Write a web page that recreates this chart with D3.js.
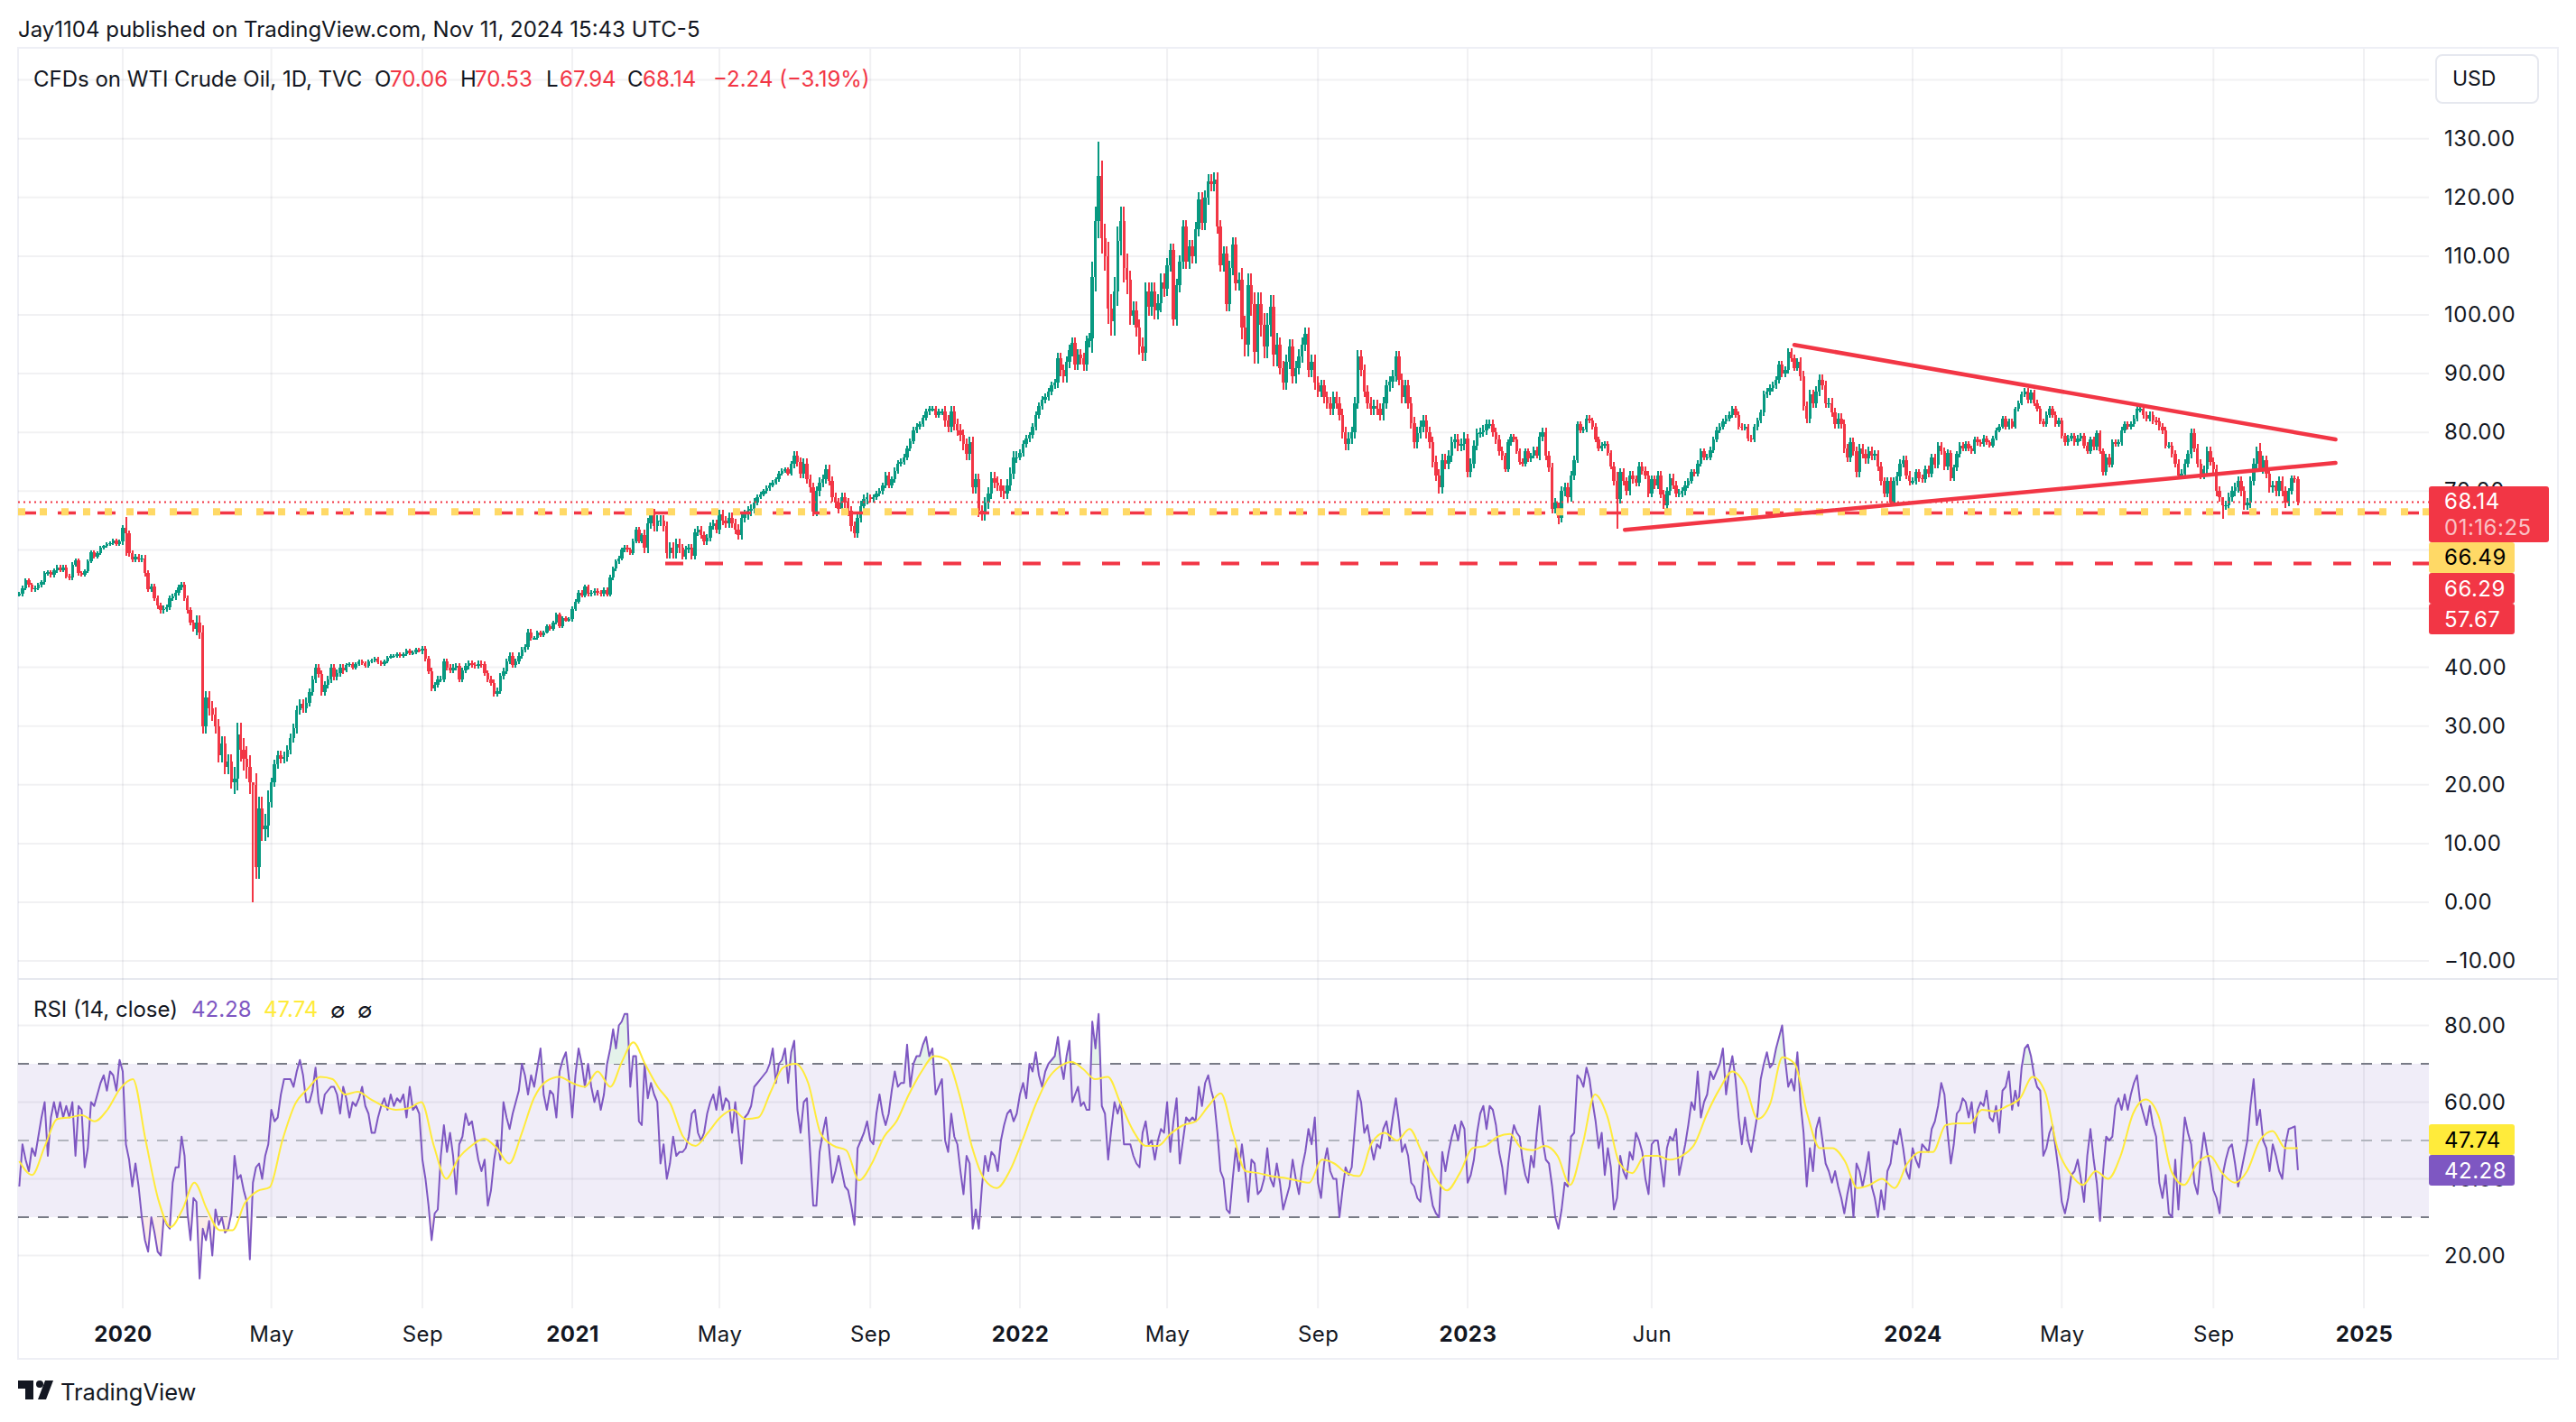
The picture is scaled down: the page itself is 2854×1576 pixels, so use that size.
<!DOCTYPE html>
<html>
<head>
<meta charset="utf-8">
<script src="https://cdn.jsdelivr.net/npm/d3@7"></script>
<style>
  html, body { margin: 0; background: #fff; }
  text { font-family: Inter, "Noto Sans", sans-serif; fill: #131722; }
</style>
</head>
<body>
<svg id="chart" width="2854" height="1576"></svg>
<script>
// one line per calendar month, 12 bars each (first line starts Oct 8 2019, last ends Nov 11 2024)
var closes = [
  52.5,53.5,54.8,54,53.3,53.5,54,54.5,56,
  56.2,55.7,56.5,57,56.6,57,55.5,55.3,57.5,58.2,56,55.8,
  56.4,58,59.6,58.8,59.5,60.4,60.6,61,61.2,61.6,61,61.4,
  63.7,62.8,59.4,58.4,58.8,58.4,58.6,56,53.3,53.8,51.8,50.5,
  49.7,50,50.2,51.8,52,52.7,53.6,54,51.8,49.7,47.6,46.6,
  47.6,46,30,34.8,33,32,30,25,27,23,24,20.5,
  21,28.6,26,24.5,23,20.4,20,6,16,12.5,13,17,
  20.4,23.5,25,24.5,24.8,26,28,29.6,32.7,33.8,33,34,
  35.8,37.9,40,38.9,35.8,37,38,40,38.4,39,40,39.5,
  40.4,40.6,40,40.5,41,40.7,40.2,41,41.2,41.5,40.8,40.6,
  41,41.7,42,42,42.3,42,42.2,42.9,42.4,42.5,43,42.8,
  43.2,41.5,39.4,36.4,37,38,38,41,40,39.5,40,40.2,
  38,39.5,40.2,40.7,40.4,40.3,40.6,40.5,39,38,37.4,35.5,
  36,38.5,39.4,41,42,40.4,41,42,43,43.5,46,45,
  45,46,45.5,46,47,46.5,47.6,49,47,48.4,48,48.2,
  50,51.2,52.7,52.3,53.7,52.5,52.7,53,52.7,52.5,53.2,52.4,
  55.3,56.8,58,58.6,60,60.4,60,59.5,61.5,63.5,61.5,62.5,
  60.4,64.5,66,64,65,65,64,59.4,60.4,59.4,61,60.4,
  58.9,60,60.4,59,63,63.5,62.5,61.4,62,64,64.5,63.5,
  66,65,64.5,65.5,64.5,63.5,62.5,65.5,66,66.6,67,68,
  69,69.5,70,70.5,71,71.5,72,73,73.5,73.7,73,74.7,
  76,75,73,74.7,72,70.6,66.5,70,71.5,72,73.7,71.7,
  69,68,67,69,68,66.6,64,62.8,65.5,67.5,68.6,69,
  68.6,69,69.6,70,71,72.7,71,72,73.5,74.7,75,75.8,
  77.3,78.5,80.4,81,81.4,82.5,83.5,84,84,83,83.5,83.5,
  82,81,83.5,81.4,80.4,79.5,78,76.3,78.3,70.6,72,66.6,
  66,68,69.6,72.2,71.5,71,70,69.6,71,73,75.8,75.8,
  76.5,78,79,79.5,81,83,84.5,85.5,86,87,88,88.5,
  92.6,90.6,89.5,92,94,95.2,91.6,93.2,92.6,91.5,95.5,96,
  106.5,116,123.7,113,110,101,99,104,112.6,116,108,106,
  99.8,100.8,97.8,94.7,93.6,104,101.4,104,100.8,102,105.5,104.5,
  108.5,111,99.3,105,109,115,109,111.6,110,114.6,119.7,115.7,
  120,122.8,122.3,123,115,108.5,110.5,101.8,108,112,105.4,106,
  97.8,95,105,101.8,93.7,101.8,98.3,94.7,98.3,101.4,93.2,95,
  91,88.5,92,94.7,89.6,91,93,95,96.7,90.6,92,88.5,
  87,88,86,85,84,86,85,83,80,78,79,80,
  85,93,90.6,87,85,84,84.5,84,83,85,88,88.6,
  89.6,92.9,89,86,88,85,81.6,78.3,79.9,81,82,80,
  78.3,75,72.7,70.6,75.3,74.7,76,78.3,78.8,77.8,78,79,
  73.2,74.7,77.8,79.9,80,80.4,81.4,81.4,80,78.8,76.8,76,
  73.7,78.3,79.3,78.8,76.8,75,74.7,76.8,75.5,76,77,76,
  79.3,80,76,74,67,68,65.5,70,70.6,69,72.7,75.3,
  81.4,80.4,80.5,82.4,82,81,78.8,77.3,77.8,78,76.5,74.2,
  71.7,68.6,73.2,71.7,70,72.7,72,71.5,74.2,73.5,72.7,69.6,
  72,71,72.7,69.5,67.6,70,72.2,71,69.6,69.6,70,71,
  71.7,73.2,73,74.7,76.8,75.8,75.8,77,78.8,80.4,81,81.9,
  82.4,83,84,83,81,80.9,80.9,79,78.8,80.9,82,83.4,
  86.5,87,87.5,88,89,91.6,90,90.6,93.7,92.6,91,92,
  89.6,84.5,82.4,86.5,85,87,89,88,85,85,83.4,81.4,
  82.4,81.4,77.3,75.8,78.3,76.8,73.2,77.3,76.3,75.5,76.8,76,
  76.3,74.2,71.7,69.6,71.7,68.1,71.7,72.5,74.7,75.3,72.7,71.7,
  71.7,73.2,72.2,72,73.7,73,75.8,74.5,77.8,76.8,74.2,76.5,
  72.2,74,76.3,77.8,77.3,78,77.3,76.8,78.8,78.3,78,79,
  78.3,77.8,79,80.4,81,82.4,80.9,81.9,81,84,85,86.5,
  87,85.5,86.8,85,84,81.9,81.4,83,84,83,81.4,82,
  79.4,78.3,79,79.4,78.3,79,79.4,77.8,76.8,78.8,77.5,79.9,
  76.8,73.2,75.8,74.5,78.3,78,78.3,80.4,81.4,81,81.4,82.4,
  84,84,83,82.4,83,82,81.9,81,80.4,77.8,77.8,76.3,
  74.7,72.7,73,74.7,76.3,79.9,77.3,74.7,72.7,73.7,76.8,75,
  73.7,70,69,67.6,67.6,69,70,70.6,71.7,70,67.6,68,
  71.7,74.7,76.8,73.7,75.3,73,70.6,71,70,71.7,70,68,
  70,72.2,72,68.14
];

// typical wick length per month, Oct 2019 to Nov 2024
var monthWicks = [.4,.4,.3,.5,.5,1.2,2,.8,.6,.3,.3,.5,.5,.5,.3,.4,.4,.9,.6,.8,.4,.8,.8,.5,.5,1,1,.6,1,2.5,1.5,1.2,1.2,2,1.2,1,1,1,1,.8,.5,.8,.5,.7,.7,.5,.5,.6,.8,.8,.7,.6,.5,.4,.5,.5,.5,.6,.7,.8,.8,.5];

// the long wicks
var spikeBars = [34, 75, 347, 495, 514, 708, 720];
var spikeHighs = [65.6, 20, 129.5, 68, 73.2, 67.6, 78.2];
var spikeLows = [59, 0, 113, 64.4, 63.6, 65.3, 73.7];

var rsi = [
  38,49,45,42,48,46,51,56,60,
  46,56,60,56,60,56,59,56,60,46,59,58,
  43,48,60,59,62,65,67,63,68,67,63,71,
  68,49,45,38,44,38,30,24,21,30,26,21,
  20,30,28,27,39,43,43,51,46,31,24,35,
  34,14,27,24,29,20,32,28,30,26,27,31,
  46,40,41,37,34,19,39,43,44,40,46,49,
  58,55,56,62,66,66,66,64,68,71,67,60,
  60,63,69,60,57,62,63,64,64,62,57,64,
  61,56,60,59,61,64,59,57,52,52,56,59,
  61,58,62,59,61,60,62,56,64,58,59,57,
  45,40,33,24,31,32,46,54,47,52,46,36,
  49,51,57,54,55,50,45,42,45,33,37,45,
  50,45,60,56,53,57,60,63,70,67,62,67,
  64,69,74,62,58,63,62,56,68,71,73,66,
  56,67,74,70,64,70,64,60,63,58,62,70,
  74,79,74,80,81,83,83,64,72,72,55,54,
  70,61,65,62,60,44,49,40,44,51,46,47,
  47,48,51,57,58,52,50,52,57,60,62,58,
  64,58,61,60,52,60,52,44,56,57,59,64,
  65,66,67,68,70,74,65,70,71,74,65,73,
  76,58,52,60,61,47,33,33,47,52,56,48,
  39,42,46,42,38,37,33,28,48,50,52,55,
  50,49,57,62,57,54,57,63,68,64,65,65,
  75,64,70,72,72,75,77,72,74,62,64,66,
  50,47,57,51,49,42,36,46,44,27,32,27,
  38,46,42,47,46,42,50,54,57,58,55,57,
  62,65,61,70,68,73,67,64,68,70,71,72,
  77,70,66,72,76,60,62,64,59,60,58,58,
  81,74,83,59,57,45,53,60,57,60,49,49,
  49,46,44,43,52,55,49,50,45,50,53,52,
  60,47,55,61,44,50,56,55,56,55,64,59,
  65,67,63,60,52,42,40,32,31,40,48,42,
  49,42,34,45,44,36,37,40,48,40,38,44,
  39,32,35,38,45,40,36,43,47,53,49,56,
  39,35,44,48,42,40,40,30,37,43,41,43,
  53,63,60,52,54,49,45,49,48,53,55,50,
  56,61,55,47,49,46,39,38,35,34,44,47,
  38,33,31,30,47,42,47,51,54,50,55,53,
  39,41,45,52,57,59,53,59,58,54,47,43,
  36,44,50,54,52,51,45,41,39,46,43,52,
  59,50,45,44,38,30,27,32,39,38,51,52,
  67,66,64,69,66,60,55,48,52,41,48,43,
  32,35,46,42,40,47,45,52,50,47,40,36,
  49,50,50,44,38,48,51,50,53,41,45,49,
  54,60,58,68,56,60,62,68,66,68,70,74,
  62,68,72,66,56,49,56,50,47,52,57,66,
  70,73,69,70,74,77,80,71,64,66,63,73,
  60,52,38,48,42,53,56,50,44,42,39,42,
  38,35,31,36,40,30,44,42,38,42,47,38,
  35,30,37,32,42,44,50,49,53,48,42,40,
  48,45,43,49,48,47,53,55,59,65,62,52,
  44,49,57,58,61,60,56,60,52,58,60,59,
  63,56,55,59,52,63,64,68,58,63,59,69,
  74,75,72,67,64,63,46,48,52,54,48,42,
  34,31,35,41,42,45,40,34,46,53,45,39,
  29,42,51,50,51,59,61,58,62,58,62,65,
  67,60,57,54,59,54,51,39,35,41,31,30,
  45,32,45,56,52,49,39,36,45,52,47,43,
  37,35,31,41,45,48,49,44,38,42,46,50,
  59,66,54,58,50,48,42,49,46,42,40,49,
  53,53.3,53.7,42.28
];

// RSI moving average, read every 4th bar
var rsiMa = [
  44.6,41,48.5,55.6,56,56.6,55,58,63.5,66,50,34.5,27.4,32,39,32,26.6,26.6,33.7,36.8,37.8,50,59.5,63.5,66.6,66,62,62.7,60.8,59,58,58.4,60,48.6,40,45.4,48.6,50.5,48,44,51.7,61,65.5,66.6,65,64,68,64,70.5,75.6,
  70,64,59.6,51,48.6,52,56,58,55.6,56,62.7,69,70,65,51.7,48.6,47.4,39.6,44,51,55,62,68,72,71,62,48.6,40,37.6,42,50,59,66,69.4,70.5,68.6,66,66.6,59.6,52.5,48.6,48.6,51.7,54,
  55,59,62.3,51.7,42,41.5,40.7,40.3,39.6,39,45,44,41.5,40.7,49.4,52,50,53,47,40.7,37,41.5,48,48.6,51,51.7,48,47.5,48.6,46,38.4,49,62,56.4,44,41.5,46,46,45,46,49,57,63.5,68,64.5,
  55.6,59.6,71.7,70,57,48,48,44.6,37.6,38.4,40,37.6,44,47,47,54,54.5,54.5,58,57.6,59,61,66.6,62.7,48,41.5,38.4,42,40,46,57,60.7,56.4,42,38.4,44,46,41.5,39,42,50,52.5,48,48
];

var priceTicks = [-10,0,10,20,30,40,50,60,70,80,90,100,110,120,130];
var priceGrid = priceTicks.concat([140]);
var rsiTicks = [20,40,60,80];
var tickDates = [new Date(2020,0,1),new Date(2020,4,1),new Date(2020,8,1),new Date(2021,0,1),new Date(2021,4,1),new Date(2021,8,1),new Date(2022,0,1),new Date(2022,4,1),new Date(2022,8,1),new Date(2023,0,1),new Date(2023,5,1),new Date(2024,0,1),new Date(2024,4,1),new Date(2024,8,1),new Date(2025,0,1)];
var tickNames = ["2020","May","Sep","2021","May","Sep","2022","May","Sep","2023","Jun","2024","May","Sep","2025"];

var upperTrendDates = [new Date(2023,8,26), new Date(2024,11,9)];
var upperTrendPrices = [94.9, 78.8];
var lowerTrendDates = [new Date(2023,4,10), new Date(2024,11,9)];
var lowerTrendPrices = [63.4, 74.8];

var red = "#F23645", green = "#089981", purple = "#7E57C2", gold = "#FFD966", frame = "#EEEFF5";

var left = 20, right = 2691;
var svg = d3.select("#chart");

var x = d3.scaleTime()
  .domain([new Date(2020,0,1),new Date(2021,0,1),new Date(2022,0,1),new Date(2023,0,1),new Date(2024,0,1),new Date(2025,0,1)])
  .range([136,634,1130,1626,2119,2619]);
var y = d3.scaleLinear().domain([0,130]).range([1000,153.7]);
var yRsi = d3.scaleLinear().domain([30,70]).range([1349,1179]);

// bars sit at 12 even steps inside each month
var firstMonth = new Date(2019,9,1);
function barDate(i) {
  var m = Math.floor((i + 3) / 12), k = (i + 3) % 12;
  var a = d3.timeMonth.offset(firstMonth, m), b = d3.timeMonth.offset(firstMonth, m + 1);
  return new Date(+a + (b - a) * k / 12);
}

var bars = closes.map(function (c, i) {
  var open = i ? closes[i - 1] : c;
  var wick = monthWicks[Math.floor((i + 3) / 12)];
  var s = spikeBars.indexOf(i);
  return {
    date: barDate(i), open: open, close: c,
    high: s >= 0 ? spikeHighs[s] : Math.max(open, c) + wick,
    low: s >= 0 ? spikeLows[s] : Math.min(open, c) - wick
  };
});

// frame
svg.append("rect").attr("x", left).attr("y", 53).attr("width", 2834 - left).attr("height", 1506 - 53)
  .attr("fill", "none").attr("stroke", frame).attr("stroke-width", 2);
svg.append("line").attr("x1", left).attr("x2", 2834).attr("y1", 1085).attr("y2", 1085).attr("stroke", "#E6E8EF").attr("stroke-width", 2);

// rsi band under the grid
svg.append("rect").attr("x", left).attr("width", right - left).attr("y", yRsi(70)).attr("height", yRsi(30) - yRsi(70)).attr("fill", "#F0EDF8");

// grid
svg.append("g").selectAll("line").data(tickDates).enter().append("line")
  .attr("x1", d => x(d)).attr("x2", d => x(d)).attr("y1", 54).attr("y2", 1450)
  .attr("stroke", "#767A8A").attr("stroke-opacity", 0.1).attr("stroke-width", 2);
svg.append("g").selectAll("line").data(priceGrid).enter().append("line")
  .attr("x1", left).attr("x2", right).attr("y1", d => y(d)).attr("y2", d => y(d))
  .attr("stroke", "#767A8A").attr("stroke-opacity", 0.1).attr("stroke-width", 2);
svg.append("g").selectAll("line").data(rsiTicks).enter().append("line")
  .attr("x1", left).attr("x2", right).attr("y1", d => yRsi(d)).attr("y2", d => yRsi(d))
  .attr("stroke", "#767A8A").attr("stroke-opacity", 0.1).attr("stroke-width", 2);

// candles
var candle = svg.append("g").attr("shape-rendering", "crispEdges").selectAll("g").data(bars).enter().append("g")
  .attr("fill", d => d.close >= d.open ? green : red);
candle.append("rect").attr("x", d => x(d.date) - 1).attr("width", 2)
  .attr("y", d => y(d.high)).attr("height", d => y(d.low) - y(d.high));
candle.append("rect").attr("x", d => x(d.date) - 1.7).attr("width", 3.4)
  .attr("y", d => y(Math.max(d.open, d.close)))
  .attr("height", d => Math.max(1.5, Math.abs(y(d.open) - y(d.close))));

// price levels
function level(price, x0, color, w, dash) {
  svg.append("line").attr("x1", x0).attr("x2", right).attr("y1", y(price)).attr("y2", y(price))
    .attr("stroke", color).attr("stroke-width", w).attr("stroke-dasharray", dash);
}
level(68.14, left, red, 2, "2 4");
level(66.29, left, red, 3.5, "20 24");
level(66.49, left, gold, 8, "8 16");
level(57.67, 737, red, 4, "20 24");

// trend lines
var trend = d3.line().x(d => x(d[0])).y(d => y(d[1]));
[d3.zip(upperTrendDates, upperTrendPrices), d3.zip(lowerTrendDates, lowerTrendPrices)].forEach(function (t) {
  svg.append("path").attr("d", trend(t)).attr("fill", "none").attr("stroke", red).attr("stroke-width", 4.5).attr("stroke-linecap", "round");
});

// rsi levels
[[70, "#787B86"], [50, "#B2B5BE"], [30, "#787B86"]].forEach(function (l) {
  svg.append("line").attr("x1", left).attr("x2", right).attr("y1", yRsi(l[0])).attr("y2", yRsi(l[0]))
    .attr("stroke", l[1]).attr("stroke-width", 2).attr("stroke-dasharray", "12 10");
});

// rsi overbought / oversold shading
var rsiArea = function (level, pick) {
  return d3.area().x((d, i) => x(barDate(i))).y0(yRsi(level)).y1(d => yRsi(pick(d, level)));
};
svg.append("path").attr("d", rsiArea(70, Math.max)(rsi)).attr("fill", "#E4F2EA");
svg.append("path").attr("d", rsiArea(30, Math.min)(rsi)).attr("fill", "#FBEBE9");

svg.append("path").attr("fill", "none").attr("stroke", purple).attr("stroke-width", 2)
  .attr("stroke-linejoin", "round")
  .attr("d", d3.line().x((d, i) => x(barDate(i))).y(d => yRsi(d))(rsi));
svg.append("path").attr("fill", "none").attr("stroke", "#FFEB3B").attr("stroke-width", 2)
  .attr("d", d3.line().curve(d3.curveMonotoneX)
    .x((d, j) => x(barDate(j * (closes.length - 1) / (rsiMa.length - 1))))
    .y(d => yRsi(d))(rsiMa));

// axes
function styleAxis(g) {
  g.select(".domain").remove();
  g.selectAll("text").attr("font-size", 24).attr("letter-spacing", 0.5).attr("fill", "#131722")
    .style("font-family", "Inter");
}
svg.append("g").attr("transform", "translate(" + right + ",0)")
  .call(d3.axisRight(y).tickValues(priceTicks).tickFormat(d3.format(".2f")).tickSize(0).tickPadding(17))
  .call(styleAxis);
svg.append("g").attr("transform", "translate(" + right + ",0)")
  .call(d3.axisRight(yRsi).tickValues(rsiTicks).tickFormat(d3.format(".2f")).tickSize(0).tickPadding(17))
  .call(styleAxis);
svg.append("g").attr("transform", "translate(0,1470)")
  .call(d3.axisBottom(x).tickValues(tickDates).tickFormat((d, i) => tickNames[i]).tickSize(0).tickPadding(0))
  .call(styleAxis)
  .selectAll("text").attr("font-weight", (d, i) => /^\d/.test(tickNames[i]) ? 700 : 400);

// price tags
function tag(yTop, h, w, fill, label, color, cy) {
  svg.append("rect").attr("x", right).attr("y", yTop).attr("width", w).attr("height", h).attr("rx", 3).attr("fill", fill);
  svg.append("text").attr("x", 2708).attr("y", cy).attr("dy", "0.36em").attr("font-size", 24).attr("letter-spacing", 0.5)
    .style("fill", color).text(label);
}
tag(539, 62, 133, red, "68.14", "#fff", 555);
svg.append("text").attr("x", 2708).attr("y", 584).attr("dy", "0.36em").attr("font-size", 24).attr("letter-spacing", 0.5)
  .style("fill", "#fff").style("fill-opacity", 0.7).text("01:16:25");
tag(601, 34, 95, gold, "66.49", "#000", 617);
tag(635, 34, 95, red, "66.29", "#fff", 652);
tag(669, 34, 95, red, "57.67", "#fff", 686);
tag(1246, 34, 95, "#FFEB3B", "47.74", "#000", 1263);
tag(1280, 34, 95, purple, "42.28", "#fff", 1297);

// USD box
svg.append("rect").attr("x", 2699).attr("y", 61).attr("width", 113).attr("height", 53).attr("rx", 7)
  .attr("fill", "#fff").attr("stroke", "#E6E8EF").attr("stroke-width", 2);
svg.append("text").attr("x", 2717).attr("y", 87).attr("dy", "0.36em").attr("font-size", 23).text("USD");

// header and legends
function label(xp, yp, str, color, size) {
  svg.append("text").attr("x", xp).attr("y", yp).attr("dy", "0.36em").attr("font-size", size || 24)
    .style("fill", color || "#131722").text(str);
}
label(20, 32, "Jay1104 published on TradingView.com, Nov 11, 2024 15:43 UTC-5");
label(37, 87, "CFDs on WTI Crude Oil, 1D, TVC");
label(415, 87, "O"); label(432, 87, "70.06", red);
label(510, 87, "H"); label(526, 87, "70.53", red);
label(605, 87, "L"); label(620, 87, "67.94", red);
label(695, 87, "C"); label(712, 87, "68.14", red);
label(790, 87, "\u22122.24 (\u22123.19%)", red);

label(37, 1118, "RSI (14, close)");
label(212, 1118, "42.28", purple);
label(292, 1118, "47.74", "#FFEB3B");
label(366, 1119, "\u2205"); label(396, 1119, "\u2205");

// footer logo
svg.append("path").attr("fill", "#131722").attr("d", "M20 1530h17v21h-9v-12h-8zM50 1530h9l-8 21h-9z");
svg.append("circle").attr("cx", 44).attr("cy", 1534).attr("r", 4).attr("fill", "#131722");
label(67, 1543, "TradingView", "#131722", 25.5);
</script>
</body>
</html>
